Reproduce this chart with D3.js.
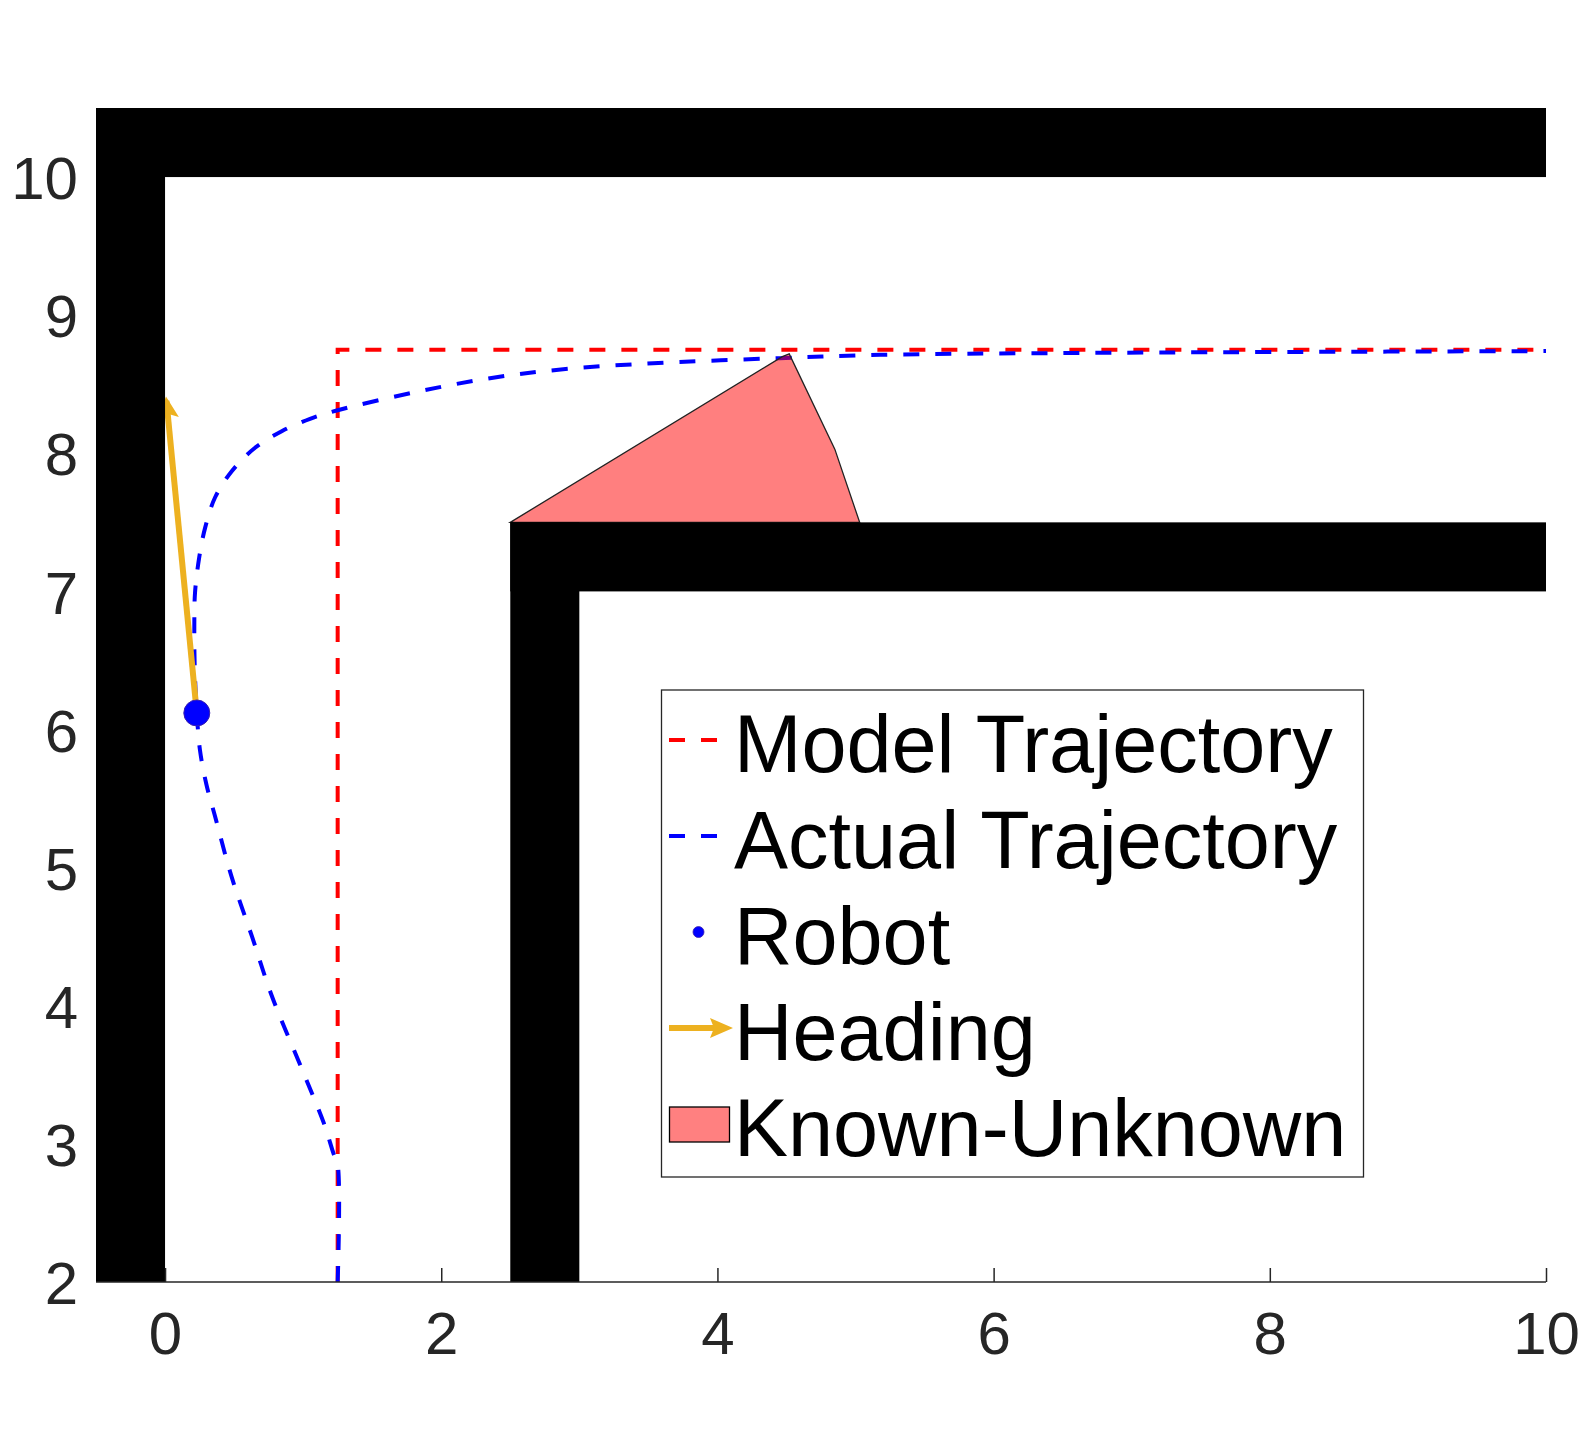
<!DOCTYPE html>
<html>
<head>
<meta charset="utf-8">
<script src="https://cdn.jsdelivr.net/npm/d3@7"></script>
<style>
  html, body { margin: 0; padding: 0; background: #fff; }
  svg { display: block; }
  text { font-family: "Liberation Sans", Arial, Helvetica, sans-serif; }
</style>
</head>
<body>
<script>
// ---------------- data ----------------
const xDomain = [-0.5, 10];
const yDomain = [2, 10.5];
const xTicks = [0, 2, 4, 6, 8, 10];
const yTicks = [2, 3, 4, 5, 6, 7, 8, 9, 10];

// walls: [x0, y0, x1, y1]
const walls = [
  [-0.5, 10, 10, 10.5],
  [-0.5, 2, 0, 10.5],
  [2.5, 7, 10, 7.5],
  [2.5, 2, 3, 7.5]
];

// model trajectory
const modelX = [1.25, 1.25, 10];
const modelY = [2.0, 8.75, 8.75];

// actual trajectory
const actualX = [1.25, 1.25, 1.22, 1.15, 1.0, 0.77, 0.63, 0.48, 0.36, 0.30, 0.253, 0.23, 0.215, 0.212, 0.217, 0.248, 0.29, 0.362, 0.483, 0.652, 0.845, 1.05, 1.243, 1.8, 2.353, 2.9, 3.534, 4.453, 5.177, 6.5, 8.0, 10.0];
const actualY = [2.0, 2.85, 2.93, 3.15, 3.52, 4.08, 4.50, 4.94, 5.38, 5.60, 5.85, 6.12, 6.45, 6.75, 6.99, 7.25, 7.46, 7.68, 7.87, 8.04, 8.16, 8.25, 8.31, 8.44, 8.544, 8.61, 8.652, 8.689, 8.713, 8.726, 8.733, 8.74];

// known-unknown polygon
const polyX = [2.5, 4.47, 4.52, 4.85, 5.03];
const polyY = [7.5, 8.70, 8.72, 8.03, 7.5];

// robot & heading
const robot = [0.23, 6.12];
const headingEnd = [0.01, 8.38];

const legendLabels = ["Model Trajectory", "Actual Trajectory", "Robot", "Heading", "Known-Unknown"];

// ---------------- drawing ----------------
const W = 1586, H = 1440;
const svg = d3.select("body").append("svg").attr("width", W).attr("height", H);

const x = d3.scaleLinear().domain(xDomain).range([96, 1546]);
const y = d3.scaleLinear().domain(yDomain).range([1282, 108]);

const axisColor = "#262626";

// trajectories
const line = d3.line().x(d => x(d[0])).y(d => y(d[1]));
const smooth = d3.line().x(d => x(d[0])).y(d => y(d[1])).curve(d3.curveCatmullRom.alpha(0.5));

svg.append("path")
  .attr("d", line(modelX.map((v, i) => [v, modelY[i]])))
  .attr("fill", "none").attr("stroke", "#ff0000").attr("stroke-width", 4)
  .attr("stroke-dasharray", "16 16");

svg.append("path")
  .attr("d", smooth(actualX.map((v, i) => [v, actualY[i]])))
  .attr("fill", "none").attr("stroke", "#0000ff").attr("stroke-width", 4)
  .attr("stroke-dasharray", "16 16");

// known-unknown polygon
svg.append("path")
  .attr("d", line(polyX.map((v, i) => [v, polyY[i]])) + "Z")
  .attr("fill", "#ff0000").attr("fill-opacity", 0.5)
  .attr("stroke", "#222").attr("stroke-width", 1.3);

// heading arrow
const defs = svg.append("defs");
defs.append("marker").attr("id", "ah").attr("viewBox", "0 0 10 10")
  .attr("refX", 8).attr("refY", 5).attr("markerWidth", 4).attr("markerHeight", 3.6)
  .attr("markerUnits", "strokeWidth").attr("orient", "auto")
  .append("path").attr("d", "M0,0 L10,5 L0,10 L2,5 Z").attr("fill", "#EDB120");

svg.append("line")
  .attr("x1", x(robot[0])).attr("y1", y(robot[1]))
  .attr("x2", x(headingEnd[0])).attr("y2", y(headingEnd[1]))
  .attr("stroke", "#EDB120").attr("stroke-width", 6)
  .attr("marker-end", "url(#ah)");

// robot
svg.append("circle")
  .attr("cx", x(robot[0])).attr("cy", y(robot[1])).attr("r", 13)
  .attr("fill", "#0000ff").attr("stroke", "#3a1fb0").attr("stroke-width", 1);

// walls
svg.selectAll("rect.wall").data(walls).join("rect").attr("class", "wall")
  .attr("x", d => x(d[0])).attr("y", d => y(d[3]))
  .attr("width", d => x(d[2]) - x(d[0])).attr("height", d => y(d[1]) - y(d[3]))
  .attr("fill", "#000");

// x axis
const xAxis = d3.axisBottom(x).tickValues(xTicks).tickSize(-14).tickPadding(58).tickFormat(d3.format("d"));
const gx = svg.append("g").attr("transform", "translate(0,1282)").call(xAxis);
gx.select(".domain").attr("d", `M${x(-0.5)},0H${x(10)}`).attr("stroke", axisColor).attr("stroke-width", 1.5);
gx.selectAll(".tick line").attr("stroke", axisColor).attr("stroke-width", 1.5);
gx.selectAll(".tick text").attr("fill", axisColor).attr("font-size", 60)
  .attr("font-family", "'Liberation Sans', Arial, Helvetica, sans-serif")
  .attr("dy", 0).attr("y", 72);

// y axis (labels only; ticks hidden behind wall)
const yAxis = d3.axisLeft(y).tickValues(yTicks).tickSize(0).tickPadding(0).tickFormat(d3.format("d"));
const gy = svg.append("g").attr("transform", "translate(78,0)").call(yAxis);
gy.select(".domain").remove();
gy.selectAll(".tick text").attr("fill", axisColor).attr("font-size", 60)
  .attr("font-family", "'Liberation Sans', Arial, Helvetica, sans-serif")
  .attr("x", 0).attr("dy", "0.36em");

// legend
const lg = svg.append("g");
lg.append("rect").attr("x", 661.5).attr("y", 690).attr("width", 702).attr("height", 487)
  .attr("fill", "#fff").attr("stroke", axisColor).attr("stroke-width", 1.3);

const rowY = legendLabels.map((_, i) => 740 + i * 96);

lg.append("line").attr("x1", 669).attr("x2", 717).attr("y1", rowY[0]).attr("y2", rowY[0])
  .attr("stroke", "#ff0000").attr("stroke-width", 4).attr("stroke-dasharray", "16 16");
lg.append("line").attr("x1", 669).attr("x2", 717).attr("y1", rowY[1]).attr("y2", rowY[1])
  .attr("stroke", "#0000ff").attr("stroke-width", 4).attr("stroke-dasharray", "16 16");
lg.append("circle").attr("cx", 698.5).attr("cy", rowY[2]).attr("r", 5.5)
  .attr("fill", "#0000ff").attr("stroke", "#3a1fb0").attr("stroke-width", 0.8);
lg.append("line").attr("x1", 669).attr("x2", 714).attr("y1", rowY[3]).attr("y2", rowY[3])
  .attr("stroke", "#EDB120").attr("stroke-width", 6);
lg.append("path").attr("d", `M710,${rowY[3] - 10} L733,${rowY[3]} L710,${rowY[3] + 10} L714,${rowY[3]} Z`)
  .attr("fill", "#EDB120");
lg.append("rect").attr("x", 669.5).attr("y", rowY[4] - 17).attr("width", 60).attr("height", 35)
  .attr("fill", "#ff8080").attr("stroke", "#000").attr("stroke-width", 1.3);

lg.selectAll("text.lab").data(legendLabels).join("text").attr("class", "lab")
  .attr("x", 734).attr("y", (d, i) => rowY[i] + 32)
  .attr("font-size", 81).attr("fill", "#000")
  .text(d => d);
</script>
</body>
</html>
